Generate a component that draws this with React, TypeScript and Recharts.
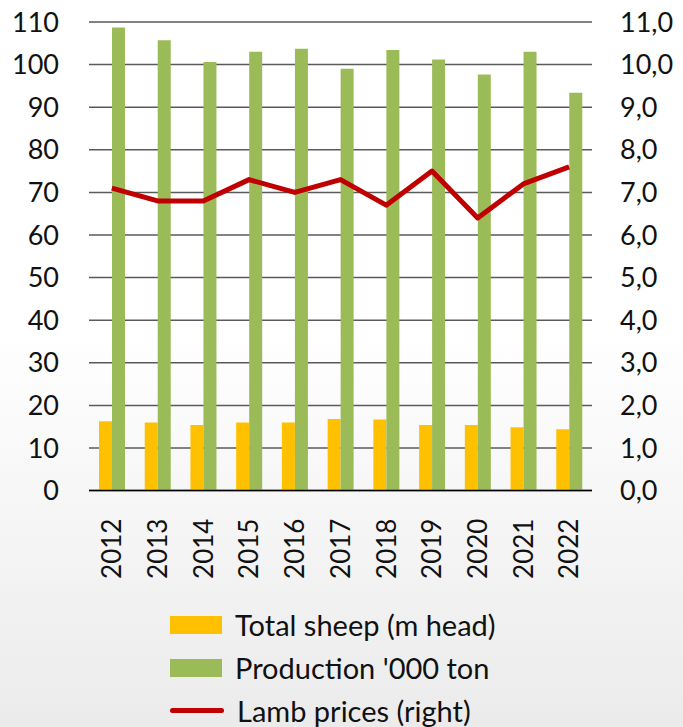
import React from 'react';
import { Bar, CartesianGrid, ComposedChart, Line, XAxis, YAxis } from 'recharts';

const years = ['2012', '2013', '2014', '2015', '2016', '2017', '2018', '2019', '2020', '2021', '2022'];
const totalSheep = [16.3, 16.0, 15.4, 16.0, 16.0, 16.8, 16.7, 15.4, 15.4, 14.9, 14.4];
const production = [108.7, 105.7, 100.6, 103.0, 103.7, 99.0, 103.4, 101.2, 97.7, 103.0, 93.4];
const lambPrices = [7.1, 6.8, 6.8, 7.3, 7.0, 7.3, 6.7, 7.5, 6.4, 7.2, 7.6];

const leftTicks = [0, 10, 20, 30, 40, 50, 60, 70, 80, 90, 100, 110];
const rightTicks = [0, 1, 2, 3, 4, 5, 6, 7, 8, 9, 10, 11];

const seriesNames = ['Total sheep (m head)', "Production '000 ton", 'Lamb prices (right)'];
const colors = { sheep: '#FFC000', production: '#9BBB59', price: '#C00000' };

const FONT = 'Lato, "Open Sans", sans-serif';
const TEXT = '#111';

const data = years.map((year, i) => ({
  year,
  sheep: totalSheep[i],
  production: production[i],
  price: lambPrices[i],
}));

const YearTick = (props: any) => {
  const { x, y, payload } = props;
  return (
    <text
      x={x}
      y={y + 20}
      transform={`rotate(-90, ${x}, ${y + 20})`}
      textAnchor="end"
      dy="0.36em"
      fill={TEXT}
      fontSize={26}
      fontFamily={FONT}
    >
      {payload.value}
    </text>
  );
};

function LegendBlock() {
  const rows = [
    { name: seriesNames[0], kind: 'box', color: colors.sheep },
    { name: seriesNames[1], kind: 'box', color: colors.production },
    { name: seriesNames[2], kind: 'line', color: colors.price },
  ];
  return (
    <div style={{ position: 'absolute', left: 170, top: 603, fontFamily: FONT, fontSize: 29, color: TEXT }}>
      {rows.map((r) => (
        <div key={r.name} style={{ display: 'flex', alignItems: 'center', height: 43 }}>
          {r.kind === 'box' ? (
            <div style={{ width: 52, height: 18, background: r.color }} />
          ) : (
            <div style={{ width: 54, height: 5, borderRadius: 3, background: r.color }} />
          )}
          <span style={{ marginLeft: 13, whiteSpace: 'nowrap' }}>{r.name}</span>
        </div>
      ))}
    </div>
  );
}

export default function App() {
  const tick = { fill: TEXT, fontSize: 27, fontFamily: FONT };
  return (
    <div
      style={{
        position: 'absolute',
        left: 0,
        top: 0,
        width: 683,
        height: 727,
        overflow: 'hidden',
        background: 'linear-gradient(180deg, #ffffff 0%, #ffffff 45%, #ebebeb 100%)',
      }}
    >
      <ComposedChart
        width={683}
        height={600}
        data={data}
        margin={{ top: 22, right: 0, bottom: 0, left: 0 }}
        barGap={0}
        barSize={13}
      >
        <CartesianGrid vertical={false} stroke="#5a5a5a" strokeWidth={1.5} yAxisId="left" />
        <XAxis
          dataKey="year"
          height={109.4}
          axisLine={{ stroke: '#000', strokeWidth: 1.5 }}
          tickLine={false}
          tick={<YearTick />}
          interval={0}
        />
        <YAxis
          yAxisId="left"
          domain={[0, 110]}
          ticks={leftTicks}
          width={89}
          axisLine={false}
          tickLine={false}
          tickSize={0}
          tickMargin={30}
          tick={tick}
        />
        <YAxis
          yAxisId="right"
          orientation="right"
          domain={[0, 11]}
          ticks={rightTicks}
          width={91}
          axisLine={false}
          tickLine={false}
          tickSize={0}
          tickMargin={28}
          tick={tick}
          tickFormatter={(v: number) => v.toFixed(1).replace('.', ',')}
        />
        <Bar yAxisId="left" dataKey="sheep" name={seriesNames[0]} fill={colors.sheep} isAnimationActive={false} />
        <Bar yAxisId="left" dataKey="production" name={seriesNames[1]} fill={colors.production} isAnimationActive={false} />
        <Line
          yAxisId="right"
          dataKey="price"
          name={seriesNames[2]}
          stroke={colors.price}
          strokeWidth={5}
          strokeLinejoin="round"
          dot={false}
          isAnimationActive={false}
        />
      </ComposedChart>
      <LegendBlock />
    </div>
  );
}
